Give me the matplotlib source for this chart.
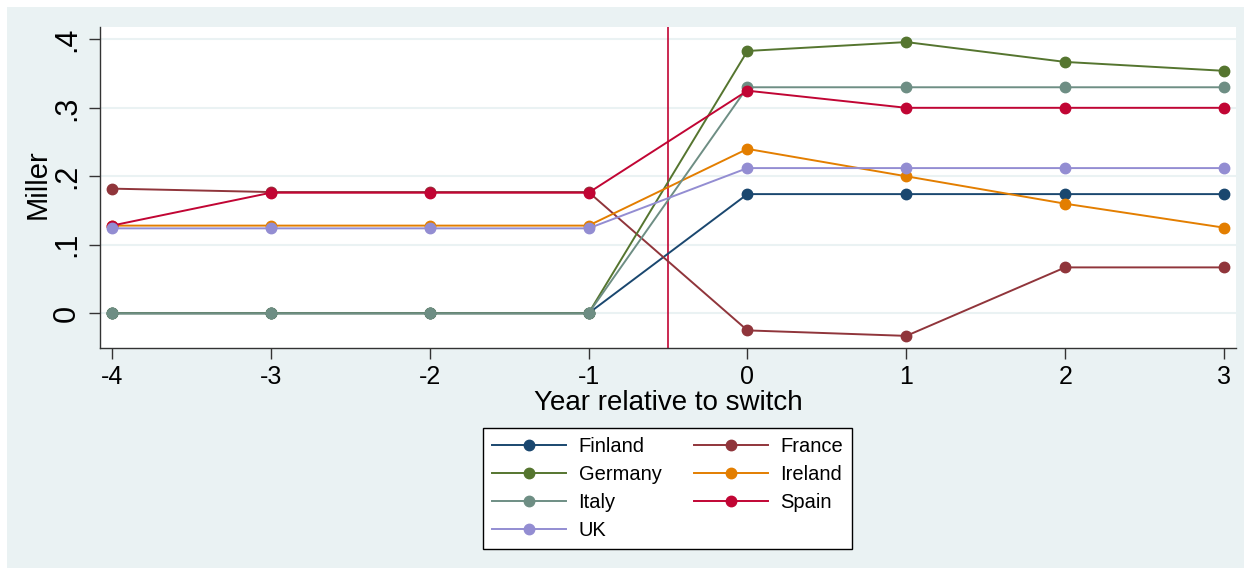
import matplotlib

matplotlib.use("Agg")
import matplotlib.pyplot as plt  # noqa: E402
from matplotlib.patches import Rectangle  # noqa: E402

plt.rcParams["font.family"] = ["Liberation Sans", "DejaVu Sans"]

years = [-4, -3, -2, -1, 0, 1, 2, 3]
countries = ["Finland", "France", "Germany", "Ireland", "Italy", "Spain", "UK"]

finland = [0.0, 0.0, 0.0, 0.0, 0.174, 0.174, 0.174, 0.174]
france = [0.182, 0.177, 0.177, 0.177, -0.025, -0.033, 0.067, 0.067]
germany = [0.0, 0.0, 0.0, 0.0, 0.383, 0.396, 0.367, 0.354]
ireland = [0.128, 0.128, 0.128, 0.128, 0.240, 0.200, 0.160, 0.125]
italy = [0.0, 0.0, 0.0, 0.0, 0.330, 0.330, 0.330, 0.330]
spain = [0.128, 0.176, 0.176, 0.176, 0.325, 0.300, 0.300, 0.300]
uk = [0.124, 0.124, 0.124, 0.124, 0.212, 0.212, 0.212, 0.212]

y_ticks = [0, 0.1, 0.2, 0.3, 0.4]
y_tick_labels = ["0", ".1", ".2", ".3", ".4"]
switch_line = -0.5

series = [finland, france, germany, ireland, italy, spain, uk]
colors = ["#1A476F", "#90353B", "#55752F", "#E37E00", "#6E8E84", "#C10534", "#938DD2"]

fig = plt.figure(figsize=(12.44, 5.69), dpi=100, facecolor="white")
# light graph-region background inside a thin white margin
fig.patches.append(Rectangle((7 / 1244, 1 / 569), 1237 / 1244, 561 / 569,
                             transform=fig.transFigure, facecolor="#EAF2F3",
                             edgecolor="none", zorder=-10))

ax = fig.add_axes([100 / 1244, 221 / 569, 1136 / 1244, 321 / 569])
ax.set_facecolor("white")

handles = {}
for name, values, color in zip(countries, series, colors):
    (line,) = ax.plot(years, values, color=color, linewidth=1.4, marker="o",
                      markersize=7.5, label=name, zorder=3)
    handles[name] = line

ax.axvline(switch_line, color="#C10534", linewidth=1.2, zorder=2)

ax.set_xlim(-4.075, 3.075)
ax.set_ylim(-0.0507, 0.418)
ax.set_xticks(years)
ax.set_xticklabels([str(y) for y in years], fontsize=18)
ax.set_yticks(y_ticks)
ax.set_yticklabels(y_tick_labels, fontsize=22, rotation=90, va="center")
ax.yaxis.grid(True, color="#EAF2F3", linewidth=1.5, zorder=0)
ax.set_axisbelow(True)

for side in ["top", "right"]:
    ax.spines[side].set_visible(False)
for side in ["left", "bottom"]:
    ax.spines[side].set_color("#333333")
    ax.spines[side].set_linewidth(1.0)
ax.tick_params(length=8, width=1.0, color="#333333")
ax.tick_params(axis="x", pad=4)
ax.tick_params(axis="y", pad=5)

ax.set_xlabel("Year relative to switch", fontsize=20, labelpad=1)
ax.set_ylabel("Miller", fontsize=21)
ax.yaxis.set_label_coords(-0.043, 0.511)

# two columns read row by row: Finland/France, Germany/Ireland, ...
order = ["Finland", "Germany", "Italy", "UK", "France", "Ireland", "Spain"]
leg = fig.legend([handles[n] for n in order], order, ncol=2,
                 loc="upper center", bbox_to_anchor=(667.5 / 1244, 141 / 569),
                 borderaxespad=0, fontsize=14.5, frameon=True, fancybox=False,
                 framealpha=1, edgecolor="black", handlelength=3.7,
                 columnspacing=1.6, labelspacing=0.45, borderpad=0.45,
                 handletextpad=0.6)
leg.get_frame().set_linewidth(1.0)

fig.savefig("out.png", dpi=100, facecolor="white")
